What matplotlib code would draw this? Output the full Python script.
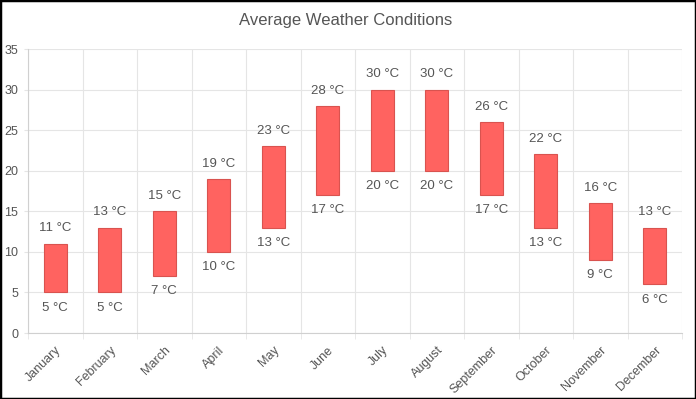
import numpy as np
import matplotlib
matplotlib.use("Agg")
import matplotlib.pyplot as plt
from matplotlib.patches import Rectangle

months = ["January", "February", "March", "April", "May", "June", "July",
          "August", "September", "October", "November", "December"]
low_temps = [5, 5, 7, 10, 13, 17, 20, 20, 17, 13, 9, 6]
high_temps = [11, 13, 15, 19, 23, 28, 30, 30, 26, 22, 16, 13]

plt.rcParams["font.family"] = ["Liberation Sans", "DejaVu Sans"]
text_color = "#555555"
grid_color = "#e5e5e5"

fig = plt.figure(figsize=(6.96, 3.99), dpi=100)
ax = fig.add_axes([28 / 696, 1 - 333 / 399, 654 / 696, 284 / 399])

x = np.arange(len(months))
heights = np.array(high_temps) - np.array(low_temps)
ax.bar(x, heights, bottom=low_temps, width=0.415, color="#ff6360",
       edgecolor="#d9534f", linewidth=0.8, zorder=3)

for xi, lo, hi in zip(x, low_temps, high_temps):
    ax.annotate(f"{hi} °C", (xi, hi), xytext=(0, 11), textcoords="offset points",
                ha="center", va="center", fontsize=9.5, color=text_color)
    ax.annotate(f"{lo} °C", (xi, lo), xytext=(0, -11), textcoords="offset points",
                ha="center", va="center", fontsize=9.5, color=text_color)

ax.set_xlim(-0.5, len(months) - 0.5)
ax.set_ylim(0, 35)
ax.set_yticks(range(0, 36, 5))
ax.set_xticks(x)
ax.set_xticklabels(months, rotation=45, ha="right", rotation_mode="anchor",
                   fontsize=9, color=text_color)
ax.tick_params(axis="x", length=0, pad=8)
ax.tick_params(axis="y", length=3, color=grid_color, labelsize=9,
               labelcolor=text_color, pad=4)

# grid lines between categories
ax.set_xticks(np.arange(-0.5, len(months), 1), minor=True)
ax.tick_params(axis="x", which="minor", length=4, color=grid_color)
ax.grid(True, axis="x", which="minor", color=grid_color, linewidth=0.8, zorder=0)
ax.grid(True, axis="y", which="major", color=grid_color, linewidth=0.8, zorder=0)

for side in ["top", "right"]:
    ax.spines[side].set_visible(False)
for side in ["left", "bottom"]:
    ax.spines[side].set_color("#d0d0d0")
    ax.spines[side].set_linewidth(0.8)

fig.text(0.497, 1 - 20 / 399, "Average Weather Conditions", ha="center",
         va="center", fontsize=12, color=text_color)

fig.add_artist(Rectangle((0, 0), 1, 1, transform=fig.transFigure, fill=False,
                         edgecolor="black", linewidth=2.5))

fig.savefig("out.png", dpi=100)
